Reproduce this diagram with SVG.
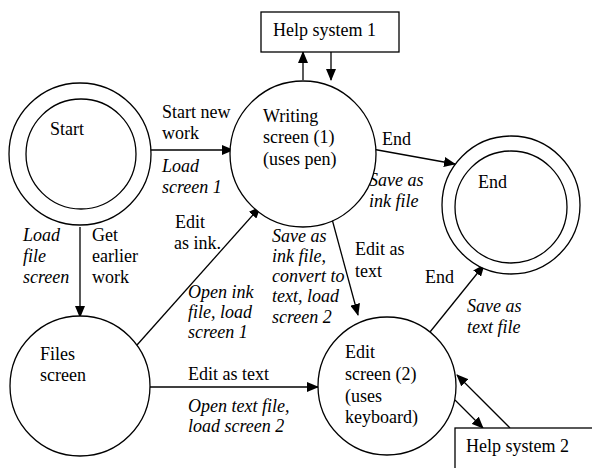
<svg xmlns="http://www.w3.org/2000/svg" width="592" height="468" viewBox="0 0 592 468">
<defs>
<marker id="ah" markerUnits="userSpaceOnUse" markerWidth="12" markerHeight="10" refX="11" refY="5" orient="auto">
<path d="M0,0 L12,5 L0,10 Z" fill="#000"/>
</marker>
</defs>
<rect width="592" height="468" fill="#fff"/>
<g id="connectors" fill="none" stroke="#000" stroke-width="1.3" marker-end="url(#ah)">
<path d="M149,150 L233,150"/>
<path d="M80,227 L80,317"/>
<path d="M137,345 L260,207"/>
<path d="M150,387 L318,387"/>
<path d="M372,149 L455,164"/>
<path d="M332,219 L358,315"/>
<path d="M430,332 L484,265"/>
<path d="M303,80 L303,52"/>
<path d="M331,52 L331,80"/>
<path d="M455,400 L483,428"/>
<path d="M510,428 L457,375"/>
</g>
<g id="labels" font-family="Liberation Serif" font-size="24" transform="scale(0.75)">
<text x="216" y="157.33">Start new</text>
<text x="216" y="185.33">work</text>
<text x="216" y="229.33" font-style="italic">Load</text>
<text x="216" y="257.33" font-style="italic">screen 1</text>
<text x="233.33" y="304">Edit</text>
<text x="232" y="332">as ink.</text>
<text x="250.67" y="397.33" font-style="italic">Open ink</text>
<text x="250.67" y="424" font-style="italic">file, load</text>
<text x="250.67" y="450.67" font-style="italic">screen 1</text>
<text x="30.67" y="321.33" font-style="italic">Load</text>
<text x="30.67" y="349.33" font-style="italic">file</text>
<text x="30.67" y="377.33" font-style="italic">screen</text>
<text x="122.67" y="321.33">Get</text>
<text x="122.67" y="349.33">earlier</text>
<text x="122.67" y="377.33">work</text>
<text x="250.67" y="506.67">Edit as text</text>
<text x="250.67" y="549.33" font-style="italic">Open text file,</text>
<text x="250.67" y="576" font-style="italic">load screen 2</text>
<text x="509.33" y="193.33">End</text>
<text x="492" y="248" font-style="italic">Save as</text>
<text x="492" y="276" font-style="italic">ink file</text>
<text x="362.67" y="322.67" font-style="italic">Save as</text>
<text x="362.67" y="349.33" font-style="italic">ink file,</text>
<text x="362.67" y="376" font-style="italic">convert to</text>
<text x="362.67" y="402.67" font-style="italic">text, load</text>
<text x="362.67" y="430.67" font-style="italic">screen 2</text>
<text x="473.33" y="340">Edit as</text>
<text x="473.33" y="369.33">text</text>
<text x="566.67" y="377.33">End</text>
<text x="622.67" y="416" font-style="italic">Save as</text>
<text x="622.67" y="444" font-style="italic">text file</text>
</g>
<g id="start">
<circle cx="80" cy="154" r="71" fill="#fff" stroke="#000" stroke-width="1.3"/>
<circle cx="81" cy="154" r="55" fill="#fff" stroke="#000" stroke-width="1.3"/>
<g font-family="Liberation Serif" font-size="24" transform="scale(0.75)"><text x="66.67" y="180">Start</text></g>
</g>
<g id="writing">
<circle cx="303" cy="154" r="73" fill="#fff" stroke="#000" stroke-width="1.3"/>
<g font-family="Liberation Serif" font-size="24" transform="scale(0.75)">
<text x="350.67" y="162.67">Writing</text>
<text x="350.67" y="190.67">screen (1)</text>
<text x="350.67" y="220">(uses pen)</text>
</g>
</g>
<g id="help1">
<rect x="261" y="12" width="138" height="40" fill="#fff" stroke="#000" stroke-width="1.3"/>
<g font-family="Liberation Serif" font-size="24" transform="scale(0.75)"><text x="364" y="48">Help system 1</text></g>
</g>
<g id="end">
<circle cx="511" cy="205" r="69" fill="#fff" stroke="#000" stroke-width="1.3"/>
<circle cx="511" cy="207" r="56" fill="#fff" stroke="#000" stroke-width="1.3"/>
<g font-family="Liberation Serif" font-size="24" transform="scale(0.75)"><text x="637.33" y="250.67">End</text></g>
</g>
<g id="files">
<circle cx="80" cy="386" r="70" fill="#fff" stroke="#000" stroke-width="1.3"/>
<g font-family="Liberation Serif" font-size="24" transform="scale(0.75)">
<text x="53.33" y="480">Files</text>
<text x="53.33" y="508">screen</text>
</g>
</g>
<g id="edit">
<circle cx="387" cy="386" r="69" fill="#fff" stroke="#000" stroke-width="1.3"/>
<g font-family="Liberation Serif" font-size="24" transform="scale(0.75)">
<text x="460" y="477.33">Edit</text>
<text x="460" y="506.67">screen (2)</text>
<text x="460" y="536">(uses</text>
<text x="460" y="564">keyboard)</text>
</g>
</g>
<g id="help2">
<rect x="455" y="428" width="145" height="50" fill="#fff" stroke="#000" stroke-width="1.3"/>
<g font-family="Liberation Serif" font-size="24" transform="scale(0.75)"><text x="621.33" y="602.67">Help system 2</text></g>
</g>
</svg>
